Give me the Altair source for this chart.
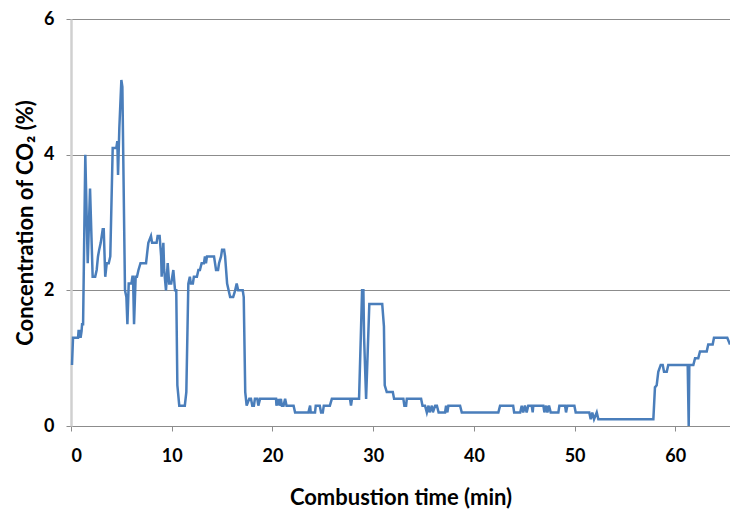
import altair as alt
import pandas as pd

# Combustion time (min)
time_min = [
    0.1, 0.2, 0.7, 0.75, 0.9, 0.95, 1.05, 1.1, 1.2, 1.42, 1.66, 1.89, 2.15, 2.4, 2.55, 2.68, 2.8, 2.95,
    3.15, 3.25, 3.4, 3.55, 3.75, 3.9, 4.14, 4.5, 4.6, 4.67, 4.8, 5.0, 5.1, 5.36, 5.5, 5.6, 5.73, 6.0,
    6.1, 6.16, 6.26, 6.42, 6.55, 6.7, 6.9, 7.45, 7.6, 7.68, 7.94, 8.05, 8.5, 8.6, 8.8, 8.95, 9.0, 9.17,
    9.25, 9.43, 9.6, 9.75, 9.95, 10.16, 10.33, 10.45, 10.56, 10.75, 11.3, 11.45, 11.65, 11.8, 11.9,
    12.1, 12.2, 12.5, 12.65, 12.8, 12.97, 13.2, 13.3, 13.4, 13.5, 14.2, 14.4, 14.6, 14.7, 14.9, 15.0,
    15.2, 15.3, 15.5, 15.65, 15.8, 16.1, 16.3, 16.45, 16.6, 17.05, 17.15, 17.3,
    17.44, 17.7, 17.87, 18.0, 18.16, 18.26, 18.5, 18.6, 18.77, 20.36, 20.4, 20.6, 20.7, 20.84, 20.94,
    21.1, 21.26, 21.4, 21.76, 22.1, 22.25, 23.57, 23.74, 23.8, 24.23, 24.3, 24.7, 24.83, 25.0, 25.1,
    25.7, 25.9, 27.7, 27.8, 27.9, 28.6, 28.77, 28.9, 29.03, 29.1, 29.3, 29.46, 29.62,
    30.9, 31.07, 31.15, 31.35, 31.95, 32.08, 33.0, 33.1, 33.27, 33.34, 34.76, 34.9, 35.15, 35.33,
    35.5, 35.6, 35.83, 35.93, 36.16, 36.33, 36.5, 37.14, 37.24, 37.37, 37.47, 38.63, 38.8, 42.43,
    42.6, 43.9, 44.0, 44.6, 44.75, 44.9, 45.07, 45.24, 45.4, 45.74, 45.84, 45.9, 46.9, 47.0, 47.17,
    47.3, 47.46, 47.63, 48.39, 48.49, 49.05, 49.15, 49.28, 49.98, 50.11, 51.46, 51.6, 51.76, 51.93,
    52.2, 52.36, 57.82, 57.98, 58.15, 58.31, 58.55, 58.75, 58.88, 59.15, 59.3, 61.23, 61.33, 61.39,
    61.79, 61.96, 62.28, 62.45, 63.12, 63.27, 63.71, 63.84, 65.16, 65.43,
]

# Concentration of CO2 (%)
co2_pct = [
    0.9, 1.3, 1.3, 1.4, 1.4, 1.3, 1.4, 1.5, 1.5, 4.0, 2.4, 3.5, 2.2, 2.2, 2.3, 2.5, 2.6, 2.7,
    2.9, 2.9, 2.2, 2.4, 2.4, 2.5, 4.1, 4.1, 4.2, 3.7, 4.4, 5.1, 5.0, 2.0, 1.9, 1.5, 2.1, 2.1,
    2.2, 2.2, 1.5, 2.2, 2.2, 2.3, 2.4, 2.4, 2.6, 2.7, 2.8, 2.7, 2.7, 2.8, 2.8, 2.5, 2.2, 2.7,
    2.3, 2.0, 2.4, 2.1, 2.1, 2.3, 2.0, 2.0, 0.6, 0.3, 0.3, 0.5, 2.1, 2.2, 2.1,
    2.1, 2.2, 2.2, 2.3, 2.3, 2.4, 2.4, 2.5, 2.4, 2.5, 2.5, 2.3, 2.3, 2.4, 2.5, 2.6,
    2.6, 2.5, 2.1, 2.0, 1.9, 1.9, 2.0, 2.1, 2.0, 2.0, 1.9, 0.5,
    0.3, 0.4, 0.4, 0.3, 0.3, 0.4, 0.4, 0.3, 0.4, 0.4, 0.3, 0.4, 0.3, 0.4, 0.3,
    0.3, 0.4, 0.3, 0.3, 0.3, 0.2, 0.2, 0.3, 0.2, 0.2, 0.3, 0.3, 0.2, 0.2, 0.3,
    0.3, 0.4, 0.4, 0.3, 0.4, 0.4, 1.3, 2.0, 2.0, 1.3, 0.4, 1.1, 1.8,
    1.8, 1.47, 0.6, 0.5, 0.5, 0.4, 0.4, 0.3, 0.3, 0.4, 0.4, 0.3, 0.3, 0.2,
    0.3, 0.2, 0.3, 0.2, 0.3, 0.3, 0.2, 0.2, 0.3, 0.2, 0.3, 0.3, 0.2, 0.2,
    0.3, 0.3, 0.2, 0.2, 0.3, 0.2, 0.3, 0.2, 0.3, 0.3, 0.2, 0.3, 0.3, 0.2, 0.3,
    0.2, 0.3, 0.2, 0.2, 0.3, 0.3, 0.2, 0.3, 0.3, 0.2, 0.2, 0.1, 0.2, 0.1,
    0.2, 0.1, 0.1, 0.57, 0.6, 0.8, 0.9, 0.9, 0.8, 0.8, 0.9, 0.9, 0.0, 0.9,
    0.9, 1.0, 1.0, 1.1, 1.1, 1.2, 1.2, 1.3, 1.3, 1.2,
]

x_ticks = [0, 10, 20, 30, 40, 50, 60]
y_ticks = [0, 2, 4, 6]

df = pd.DataFrame({"t": time_min, "v": co2_pct, "i": list(range(len(time_min)))})

FONT = "Lato"

chart = (
    alt.Chart(df)
    .mark_line(color="#4a7ebb", strokeWidth=2.5, interpolate="linear")
    .encode(
        x=alt.X(
            "t:Q",
            scale=alt.Scale(domain=[0, 65.43], nice=False, zero=False),
            axis=alt.Axis(
                title="Combustion time (min)",
                values=x_ticks,
                grid=False,
                domainColor="#8c8c8c",
                domainWidth=1,
                tickColor="#8c8c8c",
                tickSize=5,
                labelFont=FONT,
                labelFontSize=18,
                labelFontWeight="bold",
                labelColor="#000000",
                labelPadding=16,
                titleFont=FONT,
                titleFontSize=22,
                titleFontWeight="bold",
                titleColor="#000000",
                titlePadding=22,
            ),
        ),
        y=alt.Y(
            "v:Q",
            scale=alt.Scale(domain=[0, 6], nice=False),
            axis=alt.Axis(
                title="Concentration of CO₂ (%)",
                values=y_ticks,
                grid=True,
                gridColor="#8c8c8c",
                gridWidth=1,
                domainColor="#d0d0d0",
                domainWidth=2.5,
                tickColor="#8c8c8c",
                tickSize=5,
                labelFont=FONT,
                labelFontSize=18,
                labelFontWeight="bold",
                labelColor="#000000",
                labelPadding=12,
                titleFont=FONT,
                titleFontSize=22,
                titleFontWeight="bold",
                titleColor="#000000",
                titlePadding=6,
            ),
        ),
        order="i:Q",
    )
    .properties(
        width=659,
        height=407,
        autosize=alt.AutoSizeParams(type="none"),
        padding={"left": 71, "top": 19, "right": 0, "bottom": 92},
    )
    .configure_view(stroke=None)
    .configure(background="#ffffff")
)

chart.save("out.html", embed_options={"renderer": "svg", "actions": False})
